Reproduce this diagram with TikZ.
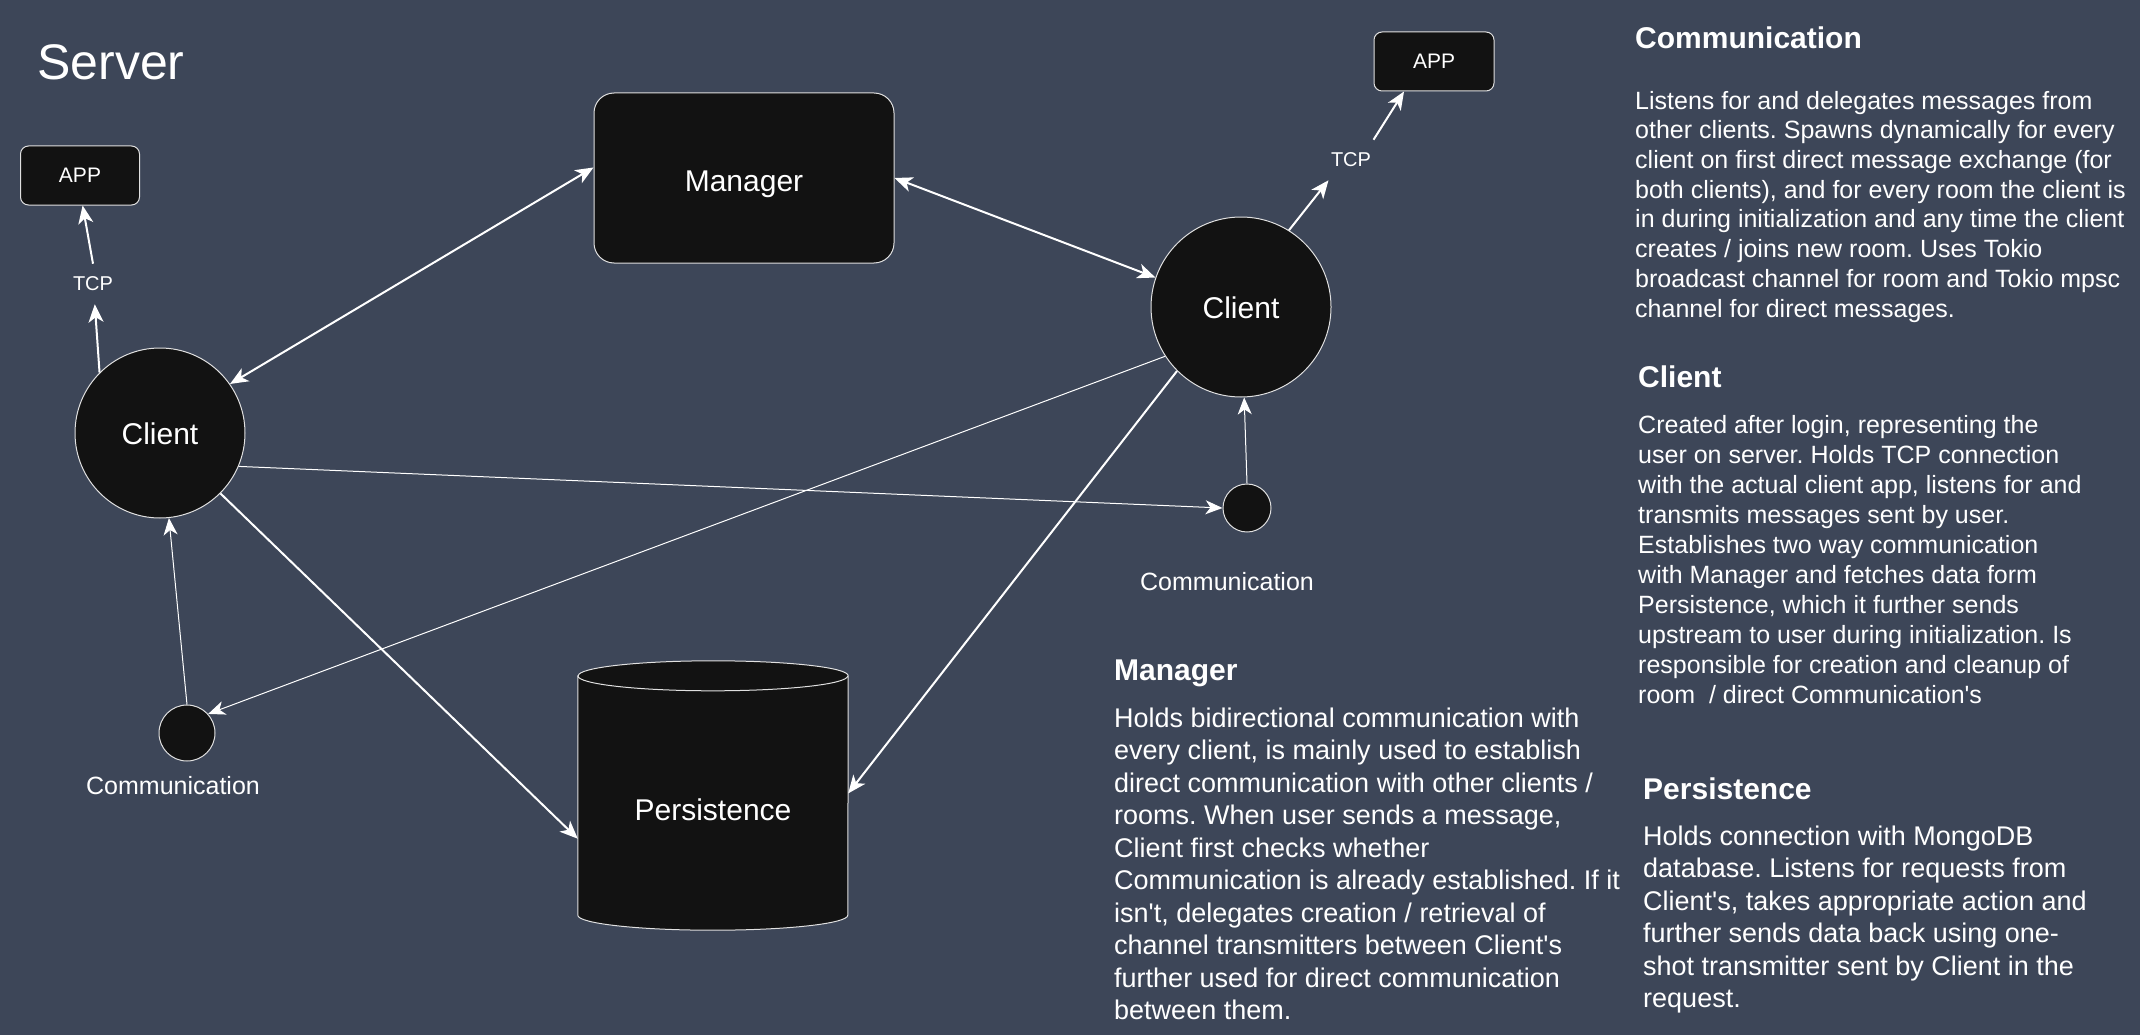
\documentclass[tikz,border=0pt]{standalone}
\usepackage{fontspec}
\setmainfont{Liberation Sans}[Ligatures=TeXOff]
\usetikzlibrary{arrows.meta}
\definecolor{bgc}{HTML}{3D4658}
\definecolor{nfill}{HTML}{121212}
\definecolor{edgec}{HTML}{E0E0E0}
\pgfdeclarelayer{back}
\pgfsetlayers{back,main}
\frenchspacing
\begin{document}
\begin{tikzpicture}[x=1pt,y=-1pt,
  shp/.style={draw=edgec, line width=1pt, fill=nfill, text=white, inner sep=0pt},
  circ/.style={shp, circle},
  rbox/.style={shp, rectangle},
  lbl/.style={text=white, inner sep=0pt},
  tcplbl/.style={text=white, inner sep=13pt, font=\fontsize{20}{24}\selectfont},
  head/.style={text=white, inner sep=0pt, anchor=base west, font=\bfseries\fontsize{30}{36}\selectfont},
  body/.style={text=white, inner sep=0pt, anchor=north west, align=left},
  conn/.style={draw=white, line width=2pt},
  thinconn/.style={draw=white, line width=1pt, -{Stealth[length=17pt,width=14pt,inset=5pt]}},
  >={Stealth[length=18pt,width=15pt,inset=5pt]}
]
\useasboundingbox (0,0) rectangle (2140,1035);
\begin{pgfonlayer}{back}
\fill[bgc] (0,0) rectangle (2140,1035);
\end{pgfonlayer}

% title
\node[lbl, anchor=base west, font=\fontsize{50}{60}\selectfont] (title) at (37,80) {Server};

% nodes
\node[circ, minimum size=170pt, text height=23pt, text depth=0pt, font=\fontsize{30}{36}\selectfont] (lc) at (160,433) {Client};
\node[circ, minimum size=180pt, text height=23pt, text depth=0pt, font=\fontsize{30}{36}\selectfont] (rc) at (1241,307) {Client};
\node[rbox, minimum width=300pt, minimum height=170pt, rounded corners=20pt,
      text height=27pt, text depth=0pt, font=\fontsize{30}{36}\selectfont] (mgr) at (744,178) {Manager};
\node[rbox, minimum width=119pt, minimum height=59pt, rounded corners=8pt, font=\fontsize{21}{25}\selectfont] (lapp) at (80,175.5) {APP};
\node[rbox, minimum width=120pt, minimum height=59pt, rounded corners=8pt, font=\fontsize{21}{25}\selectfont] (rapp) at (1434,61.5) {APP};
\node[tcplbl] (ltcp) at (93,284) {TCP};
\node[tcplbl] (rtcp) at (1351,160) {TCP};
\node[circ, minimum size=56pt] (lcomm) at (187,733) {};
\node[circ, minimum size=48pt] (rcomm) at (1247,508) {};
\node[lbl, font=\fontsize{25}{30}\selectfont] (lcommlbl) at (173,786) {Communication};
\node[lbl, font=\fontsize{25}{30}\selectfont] (rcommlbl) at (1227,582) {Communication};

% persistence cylinder
\node[lbl, minimum width=270pt, minimum height=240pt, font=\fontsize{30}{36}\selectfont] (pers) at (713,810) {Persistence};
\begin{pgfonlayer}{back}
\filldraw[fill=nfill, draw=edgec, line width=1pt]
  ([yshift=14pt]pers.north west) -- ([yshift=15pt]pers.south west)
  arc[start angle=180, end angle=360, x radius=135pt, y radius=15pt]
  -- ([yshift=14pt]pers.north east)
  arc[start angle=0, end angle=180, x radius=135pt, y radius=15pt] -- cycle;
\draw[edgec, line width=1pt] ([yshift=14pt]pers.north west)
  arc[start angle=180, end angle=360, x radius=135pt, y radius=15pt];
\end{pgfonlayer}

% connectors
\draw[conn, <->] (lc.35) -- (mgr.176);
\draw[conn, <->] (mgr.east) -- (rc.161);
\draw[conn, ->] (lc.-45) -- (pers.192);
\draw[conn, ->] (rc.225) -- (pers.7);
\draw[thinconn] (lc.-23) -- (rcomm.west);
\draw[thinconn] (rc.213) -- (lcomm.42);
\draw[thinconn] (lcomm.north) -- (lc.-84);
\draw[thinconn] (rcomm.north) -- (rc.-88);
\draw[conn, ->] (lc.135) -- (ltcp.-85);
\draw[conn, ->] (ltcp.north) -- (lapp.-85);
\draw[conn, ->] (rc.58) -- (rtcp.222);
\draw[conn, ->] (rtcp.42) -- (rapp.225);

% descriptions
\node[head] (h1) at (1635,49) {Communication};
\node[body, font=\fontsize{25}{29.7}\selectfont] (b1) at (1635,88.2) {\strut Listens for and delegates messages from\\
other clients. Spawns dynamically for every\\
client on first direct message exchange (for\\
both clients), and for every room the client is\\
in during initialization and any time the client\\
creates / joins new room. Uses Tokio\\
broadcast channel for room and Tokio mpsc\\
channel for direct messages.};

\node[head] (h2) at (1638,387) {Client};
\node[body, font=\fontsize{25}{30}\selectfont] (b2) at (1638,412) {\strut Created after login, representing the\\
user on server. Holds TCP connection\\
with the actual client app, listens for and\\
transmits messages sent by user.\\
Establishes two way communication\\
with Manager and fetches data form\\
Persistence, which it further sends\\
upstream to user during initialization. Is\\
responsible for creation and cleanup of\\
room~ / direct Communication's};

\node[head] (h3) at (1114,680) {Manager};
\node[body, font=\fontsize{27}{32.5}\selectfont] (b3) at (1114,704.25) {\strut Holds bidirectional communication with\\
every client, is mainly used to establish\\
direct communication with other clients /\\
rooms. When user sends a message,\\
Client first checks whether\\
Communication is already established. If it\\
isn't, delegates creation / retrieval of\\
channel transmitters between Client's\\
further used for direct communication\\
between them.};

\node[head] (h4) at (1643,799) {Persistence};
\node[body, font=\fontsize{27}{32.5}\selectfont] (b4) at (1643,822.25) {\strut Holds connection with MongoDB\\
database. Listens for requests from\\
Client's, takes appropriate action and\\
further sends data back using one-\\
shot transmitter sent by Client in the\\
request.};
\end{tikzpicture}
\end{document}
